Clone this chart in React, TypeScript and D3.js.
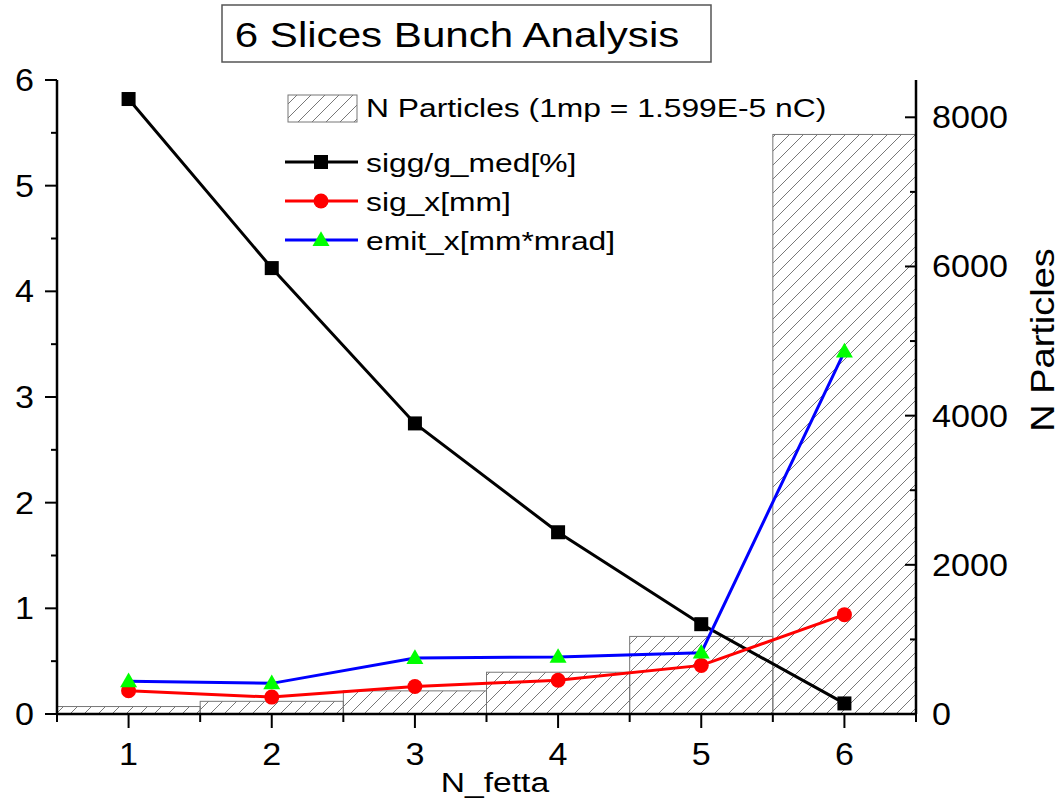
import React from "react";
import * as d3 from "d3";

// values
const slices = [1, 2, 3, 4, 5, 6];
const sigg = [5.82, 4.22, 2.75, 1.72, 0.85, 0.1];
const sigX = [0.22, 0.16, 0.26, 0.32, 0.46, 0.94];
const emitX = [0.31, 0.29, 0.53, 0.54, 0.58, 3.43];
const nParticles = [100, 170, 310, 560, 1040, 7770];

const leftTicks = [0, 1, 2, 3, 4, 5, 6];
const rightTicks = [0, 2000, 4000, 6000, 8000];

const W = 1062;
const H = 799;
const FONT = "'Liberation Sans', Arial, sans-serif";

// the reference text is stretched horizontally, sx sets by how much
function SText({ x, y, size, anchor = "start", rotate = 0, sx = 1.2, children }: any) {
  const tr = `translate(${x},${y})${rotate ? ` rotate(${rotate})` : ""} scale(${sx},1)`;
  return (
    <text transform={tr} fontSize={size} textAnchor={anchor} fontFamily={FONT} fill="#000">
      {children}
    </text>
  );
}

export default function App() {
  const x = d3.scaleLinear().domain([0.5, 6.5]).range([57, 916]);
  const yL = d3.scaleLinear().domain([0, 6]).range([714, 80]);
  const yR = d3.scaleLinear().domain([0, 8500]).range([714, 80]);

  const line = d3
    .line<number>()
    .x((_, i) => x(slices[i]))
    .y((d) => yL(d));

  const tri = d3.symbol(d3.symbolTriangle, 125)();
  const series = [
    { name: "sigg/g_med[%]", values: sigg, color: "#000000", marker: "square" },
    { name: "sig_x[mm]", values: sigX, color: "#ff0000", marker: "circle" },
    { name: "emit_x[mm*mrad]", values: emitX, color: "#0000ff", marker: "triangle" },
  ];

  const marker = (kind: string, cx: number, cy: number, key: any) => {
    if (kind === "square")
      return <rect key={key} x={cx - 7} y={cy - 7} width={14} height={14} fill="#000" />;
    if (kind === "circle") return <circle key={key} cx={cx} cy={cy} r={7.5} fill="#ff0000" />;
    return <path key={key} d={tri || ""} transform={`translate(${cx},${cy + 1})`} fill="#00ff00" />;
  };

  const y0 = yL(0);

  return (
    <div style={{ position: "absolute", left: 0, top: 0 }}>
      <svg width={W} height={H} style={{ display: "block", background: "#fff" }}>
        <defs>
          <pattern id="hatch" patternUnits="userSpaceOnUse" width={14} height={14}>
            <path
              d="M0,14 L14,0 M-3.5,3.5 L3.5,-3.5 M10.5,17.5 L17.5,10.5"
              stroke="#555"
              strokeWidth={0.8}
            />
          </pattern>
        </defs>

        {/* title */}
        <rect x={222} y={5} width={489} height={57} fill="#fff" stroke="#555" strokeWidth={1.5} />
        <SText x={457} y={47} size={36} sx={1.17} anchor="middle">
          6 Slices Bunch Analysis
        </SText>

        {/* bars on right axis */}
        {nParticles.map((v, i) => (
          <rect
            key={i}
            x={x(slices[i] - 0.5)}
            y={yR(v)}
            width={x(slices[i] + 0.5) - x(slices[i] - 0.5)}
            height={y0 - yR(v)}
            fill="url(#hatch)"
            stroke="#777"
            strokeWidth={1}
          />
        ))}

        {/* lines + markers */}
        {series.map((s) => (
          <g key={s.name}>
            <path d={line(s.values) || ""} fill="none" stroke={s.color} strokeWidth={3} />
            {s.values.map((v, i) => marker(s.marker, x(slices[i]), yL(v), i))}
          </g>
        ))}

        {/* left axis */}
        <line x1={57} x2={57} y1={yL(6)} y2={y0} stroke="#000" strokeWidth={2.5} />
        {leftTicks.map((t) => (
          <g key={t}>
            <line x1={45} x2={57} y1={yL(t)} y2={yL(t)} stroke="#000" strokeWidth={2} />
            <SText x={34} y={yL(t) + 11} size={31} sx={1.1} anchor="end">
              {t}
            </SText>
          </g>
        ))}
        {d3.range(0.5, 6, 1).map((t) => (
          <line key={t} x1={51} x2={57} y1={yL(t)} y2={yL(t)} stroke="#000" strokeWidth={2} />
        ))}

        {/* right axis */}
        <line x1={916} x2={916} y1={yR(8500)} y2={y0} stroke="#000" strokeWidth={2.5} />
        {rightTicks.map((t) => (
          <g key={t}>
            <line x1={905} x2={916} y1={yR(t)} y2={yR(t)} stroke="#000" strokeWidth={2} />
            <SText x={932} y={yR(t) + 11} size={31} sx={1.1}>
              {t}
            </SText>
          </g>
        ))}
        {d3.range(1000, 8500, 2000).map((t) => (
          <line key={t} x1={910} x2={916} y1={yR(t)} y2={yR(t)} stroke="#000" strokeWidth={2} />
        ))}

        {/* bottom axis */}
        <line x1={57} x2={916} y1={y0} y2={y0} stroke="#000" strokeWidth={2.5} />
        {slices.map((t) => (
          <g key={t}>
            <line x1={x(t)} x2={x(t)} y1={y0} y2={y0 + 14} stroke="#000" strokeWidth={2} />
            <SText x={x(t)} y={765} size={31} sx={1.1} anchor="middle">
              {t}
            </SText>
          </g>
        ))}
        {d3.range(0.5, 7, 1).map((t) => (
          <line key={t} x1={x(t)} x2={x(t)} y1={y0} y2={y0 + 8} stroke="#000" strokeWidth={2} />
        ))}

        {/* axis titles */}
        <SText x={495} y={792} size={28} anchor="middle">
          N_fetta
        </SText>
        <SText x={1054} y={340} size={33} sx={1.15} anchor="middle" rotate={-90}>
          N Particles
        </SText>

        {/* legend */}
        <rect x={288} y={95} width={69} height={27} fill="url(#hatch)" stroke="#777" strokeWidth={1} />
        <SText x={366} y={117} size={26.5}>
          N Particles (1mp = 1.599E-5 nC)
        </SText>
        {series.map((s, i) => {
          const ly = 162 + i * 39;
          return (
            <g key={s.name}>
              <line x1={285} x2={358} y1={ly} y2={ly} stroke={s.color} strokeWidth={3} />
              {marker(s.marker, 321, ly, "m")}
              <SText x={366} y={ly + 10} size={26.5}>
                {s.name}
              </SText>
            </g>
          );
        })}
      </svg>
    </div>
  );
}
